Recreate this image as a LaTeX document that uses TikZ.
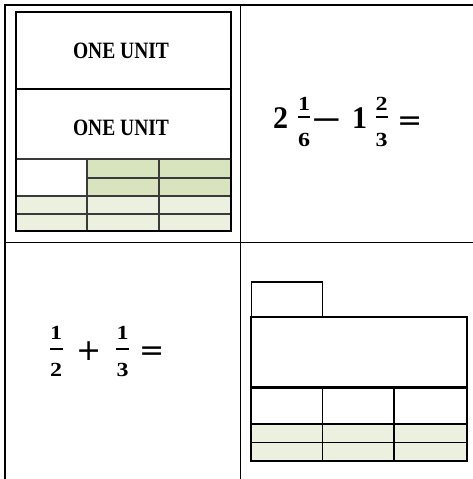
\documentclass[tikz,border=0pt]{standalone}
\usepackage{fontspec}
\setmainfont{Liberation Serif}
\newfontfamily\opfont{DejaVu Sans}
\definecolor{gdark}{HTML}{D7E4BD}
\definecolor{glight}{HTML}{EBF1DE}
\definecolor{gridc}{HTML}{3A3A3A}
\begin{document}
\begin{tikzpicture}[x=1pt,y=-1pt,
  frame/.style={line width=1.5pt,black},
  grid/.style={line width=1.1pt,gridc},
  box/.style={line width=1.2pt,black},
  thick box/.style={line width=2.3pt,black},
  unit/.style={font=\fontsize{19.5}{20}\bfseries,inner sep=0pt},
  big/.style={font=\fontsize{30}{32}\bfseries,inner sep=0pt,anchor=base},
  small/.style={font=\fontsize{20}{22}\bfseries,inner sep=0pt,anchor=base},
  op/.style={font=\fontsize{30}{30}\opfont,inner sep=0pt},
  bar/.style={line width=1.7pt}]
\useasboundingbox (0,0) rectangle (473,479);
% outer table
\draw[frame] (5,479) -- (5,5) -- (473,5);
\draw[frame] (240.7,5) -- (240.7,479);
\draw[frame] (5,242.7) -- (473,242.7);
% top-left model
\fill[gdark] (87,159) rectangle (231,196);
\fill[glight] (16,196) rectangle (231,231);
\draw[grid] (16,159) -- (231,159);
\draw[grid] (87,178) -- (231,178);
\draw[grid] (16,196) -- (231,196);
\draw[grid] (16,214) -- (231,214);
\draw[grid] (87,159) -- (87,231);
\draw[grid] (159,159) -- (159,231);
\draw[box] (16,12) rectangle (231,231);
\draw[box] (16,89) -- (231,89);
\node[unit] (u1) at (121,51) {\scalebox{1}[1.2]{ONE UNIT}};
\node[unit] (u2) at (121,127.5) {\scalebox{1}[1.2]{ONE UNIT}};
% top-right expression
\node[big] (a2) at (280.5,128) {\scalebox{1}[1.05]{2}};
\node[small] (a1n) at (304,110) {\scalebox{1.2}[1]{1}};
\node[small] (a6d) at (304,146) {\scalebox{1.2}[1]{6}};
\draw[bar] (298,117) -- (310,117);
\node[op] (aminus) at (326.5,124) {\scalebox{1.3}[1]{−}};
\node[big] (b1) at (359.5,128) {\scalebox{1}[1.05]{1}};
\node[small] (b2n) at (381.5,110) {\scalebox{1.2}[1]{2}};
\node[small] (b3d) at (381.5,146) {\scalebox{1.2}[1]{3}};
\draw[bar] (375.5,117) -- (387.5,117);
\node[op] (aeq) at (410,123.5) {=};
% bottom-left expression
\node[small] (c1n) at (56,339) {\scalebox{1.2}[1]{1}};
\node[small] (c2d) at (56,376) {\scalebox{1.2}[1]{2}};
\draw[bar] (49.5,349) -- (62.5,349);
\node[op] (cplus) at (89,351.5) {+};
\node[small] (d1n) at (122.5,339) {\scalebox{1.2}[1]{1}};
\node[small] (d3d) at (122.5,376) {\scalebox{1.2}[1]{3}};
\draw[bar] (116,349) -- (129,349);
\node[op] (ceq) at (152,353.5) {=};
% bottom-right model
\fill[glight] (251.3,424) rectangle (467,461);
\draw[box] (322.5,387.5) -- (322.5,461);
\draw[box] (394,387.5) -- (394,461);
\draw[box] (251.3,424) -- (467,424);
\draw[box] (251.3,442.3) -- (467,442.3);
\draw[box] (251.3,282) rectangle (322.5,317);
\draw[thick box] (251.3,317) rectangle (467,461);
\draw[thick box] (251.3,387.5) -- (467,387.5);
\end{tikzpicture}
\end{document}
